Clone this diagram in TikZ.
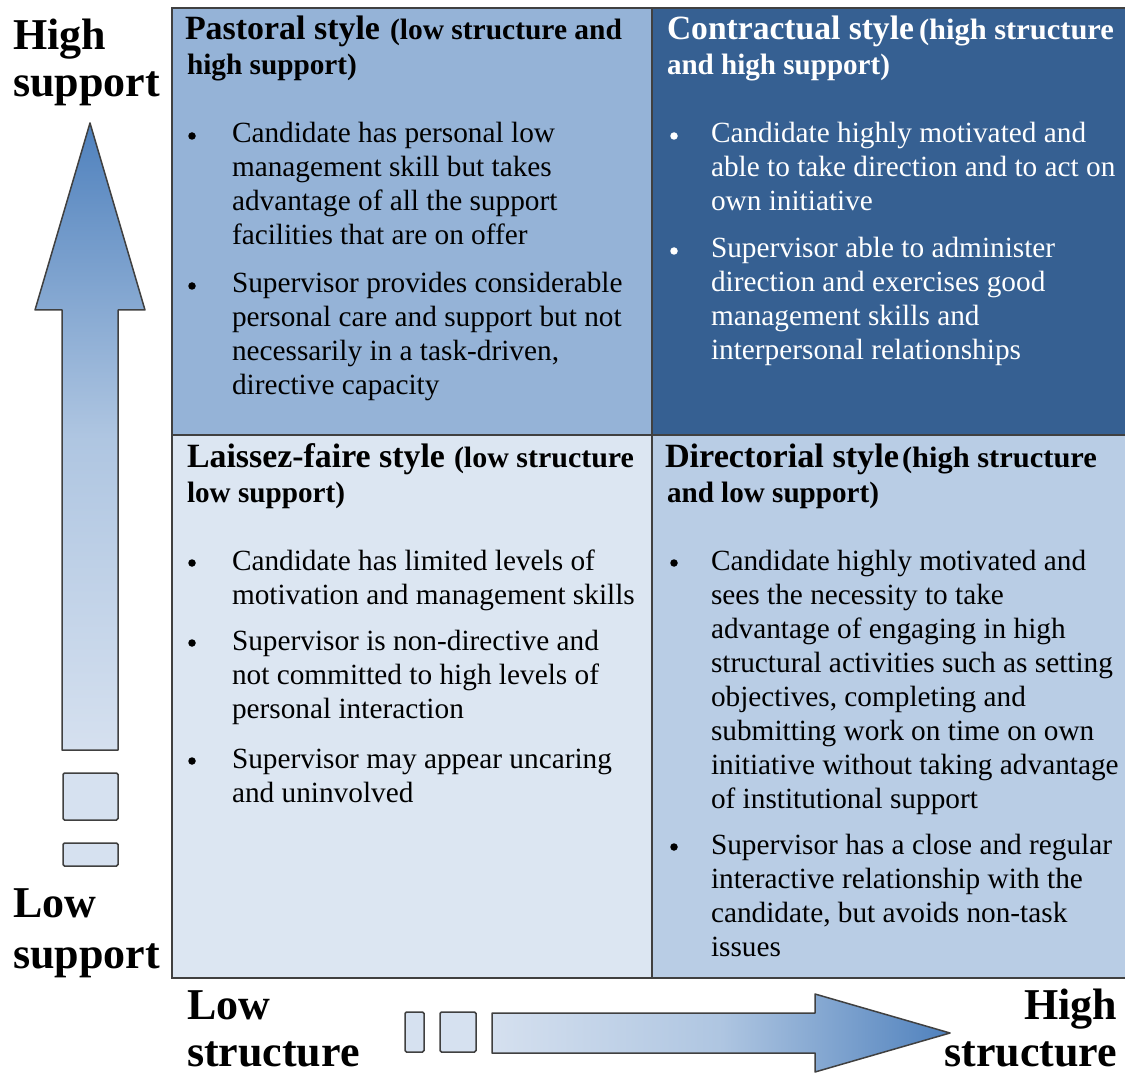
\documentclass[tikz,border=0pt]{standalone}
\usepackage{fontspec}
\setmainfont{Liberation Serif}
\usetikzlibrary{shapes.geometric}
\newcommand\mylines[1]{\begin{tabular}[t]{@{}l@{}}#1\end{tabular}}
\newcommand\fitw[2]{\resizebox{#1pt}{\height}{#2}}
\definecolor{pastc}{HTML}{95B3D7}
\definecolor{contc}{HTML}{366092}
\definecolor{laisc}{HTML}{DCE6F2}
\definecolor{dirc}{HTML}{B9CDE5}
\definecolor{gridc}{HTML}{404040}
\definecolor{arrdark}{HTML}{4F81BD}
\definecolor{arrlight}{HTML}{D5E0EF}
\definecolor{boxc}{HTML}{D6E1F0}
\begin{document}
\begin{tikzpicture}[x=1pt,y=-1pt,
  every node/.style={inner sep=0pt,outer sep=0pt},
  body/.style={anchor=base west,font=\fontsize{29.3}{34}\selectfont},
  bul/.style={circle,fill=black,minimum size=7.5pt},
  ttl/.style={anchor=base west,font=\fontsize{34}{38}\selectfont\bfseries},
  sub/.style={anchor=base west,font=\fontsize{29.5}{34}\selectfont\bfseries},
  axl/.style={anchor=base west,font=\fontsize{44}{48}\selectfont\bfseries},
  quad/.style={draw=gridc,line width=2pt},
  arrout/.style={draw=gridc,line width=1.5pt,line join=round},
  smallbox/.style={draw=gridc,line width=1.5pt,fill=boxc,rounded corners=1.5pt}]
\useasboundingbox (0,0) rectangle (1125,1075);
\fill[white] (0,0) rectangle (1125,1075);

% quadrants
\fill[pastc] (172,8) rectangle (652,435);
\fill[contc] (652,8) rectangle (1126,435);
\fill[laisc] (172,435) rectangle (652,978);
\fill[dirc] (652,435) rectangle (1126,978);
\draw[quad] (172,8) rectangle (1126,978);
\draw[quad] (652,8) -- (652,978);
\draw[quad] (172,435) -- (1126,435);

% vertical arrow
\shade[top color=arrdark,bottom color=arrlight,middle color=dirc!90!arrdark]
  (90,123) -- (145,310) -- (118,310) -- (118,750) -- (62,750) -- (62,310) -- (35,310) -- cycle;
\draw[arrout] (90,123) -- (145,310) -- (118,310) -- (118,750) -- (62,750) -- (62,310) -- (35,310) -- cycle;
\draw[smallbox] (63,773) rectangle (118,820);
\draw[smallbox] (63,843) rectangle (118,866);

% horizontal arrow
\shade[left color=arrlight,right color=arrdark,middle color=dirc!90!arrdark]
  (492,1013) -- (815,1013) -- (815,994) -- (950,1033) -- (815,1072) -- (815,1053) -- (492,1053) -- cycle;
\draw[arrout] (492,1013) -- (815,1013) -- (815,994) -- (950,1033) -- (815,1072) -- (815,1053) -- (492,1053) -- cycle;
\draw[smallbox] (405,1012) rectangle (424,1052);
\draw[smallbox] (440,1012) rectangle (476,1052);

% axis labels
\node[axl] (hsup1) at (13,50) {High};
\node[axl] (hsup2) at (13,97) {support};
\node[axl] (lsup1) at (13,917) {Low};
\node[axl] (lsup2) at (13,968) {support};
\node[axl] (lstr1) at (187,1019) {Low};
\node[axl] (lstr2) at (187,1066) {structure};
\node[axl,anchor=base east] (hstr1) at (1117,1019) {High};
\node[axl,anchor=base east] (hstr2) at (1117,1066) {structure};

% Pastoral
\node[ttl] (pt) at (185,40) {\fitw{195}{Pastoral style}};
\node[sub] (ps) at (390,40) {\fitw{232}{(low structure and}};
\node[sub] (ps2) at (187,75) {\fitw{170}{high support)}};
\node[bul] (pb1) at (192,136) {};
\node[body] (p1) at (232,143) {\mylines{Candidate has personal low\\management skill but takes\\advantage of all the support\\facilities that are on offer}};
\node[bul] (pb2) at (192,286) {};
\node[body] (p2) at (232,293) {\mylines{Supervisor provides considerable\\personal care and support but not\\necessarily in a task-driven,\\directive capacity}};

% Contractual
\node[ttl,text=white] (ct) at (667,40) {\fitw{247}{Contractual style}};
\node[sub,text=white] (cs) at (919,40) {\fitw{195}{(high structure}};
\node[sub,text=white] (cs2) at (667,75) {\fitw{223}{and high support)}};
\node[bul,fill=white] (cb1) at (674,136) {};
\node[body,text=white] (c1) at (711,143) {\mylines{Candidate highly motivated and\\able to take direction and to act on\\own initiative}};
\node[bul,fill=white] (cb2) at (674,251) {};
\node[body,text=white] (c2) at (711,258) {\mylines{Supervisor able to administer\\direction and exercises good\\management skills and\\interpersonal relationships}};

% Laissez-faire
\node[ttl] (lt) at (187,467) {\fitw{258}{Laissez-faire style}};
\node[sub] (ls) at (454,467) {\fitw{180}{(low structure}};
\node[sub] (ls2) at (187,502) {\fitw{158}{low support)}};
\node[bul] (lb1) at (192,563) {};
\node[body] (l1) at (232,570) {\mylines{Candidate has limited levels of\\motivation and management skills}};
\node[bul] (lb2) at (192,643) {};
\node[body] (l2) at (232,650) {\mylines{Supervisor is non-directive and\\not committed to high levels of\\personal interaction}};
\node[bul] (lb3) at (192,761) {};
\node[body] (l3) at (232,768) {\mylines{Supervisor may appear uncaring\\and uninvolved}};

% Directorial
\node[ttl] (dt) at (665,467) {\fitw{234}{Directorial style}};
\node[sub] (ds) at (902,467) {\fitw{195}{(high structure}};
\node[sub] (ds2) at (667,502) {\fitw{212}{and low support)}};
\node[bul] (db1) at (674,563) {};
\node[body] (d1) at (711,570) {\mylines{Candidate highly motivated and\\sees the necessity to take\\advantage of engaging in high\\structural activities such as setting\\objectives, completing and\\submitting work on time on own\\initiative without taking advantage\\of institutional support}};
\node[bul] (db2) at (674,847) {};
\node[body] (d2) at (711,854) {\mylines{Supervisor has a close and regular\\interactive relationship with the\\candidate, but avoids non-task\\issues}};
\end{tikzpicture}
\end{document}
